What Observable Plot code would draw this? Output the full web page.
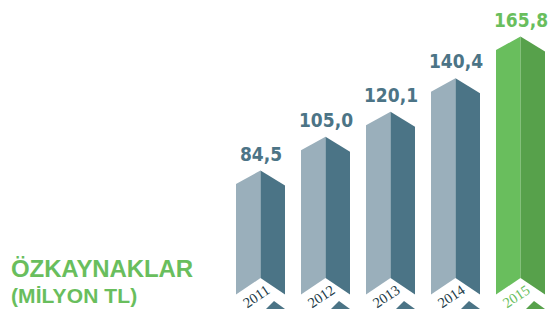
<!DOCTYPE html>
<html>
<head>
<meta charset="utf-8">
<script src="https://cdn.jsdelivr.net/npm/d3@7"></script>
<script src="https://cdn.jsdelivr.net/npm/@observablehq/plot@0.6"></script>
<style>
  html, body { margin: 0; padding: 0; background: #ffffff; }
  #chart { width: 551px; height: 317px; overflow: hidden; }
  #chart svg { display: block; }
</style>
</head>
<body>
<div id="chart"></div>
<script>
// ---- data ----
const years = ["2011", "2012", "2013", "2014", "2015"];
const values = [84.5, 105.0, 120.1, 140.4, 165.8];
const valueLabels = ["84,5", "105,0", "120,1", "140,4", "165,8"];
const highlighted = [false, false, false, false, true];
const titleLines = ["ÖZKAYNAKLAR", "(MİLYON TL)"];

// ---- styles ----
const greyLight = "#9aafbb", greyDark = "#4b7486", greyText = "#4c7486", yearDark = "#223b48";
const greenLight = "#69be5d", greenDark = "#57a14b";

const rows = years.map((year, i) => ({
  year, value: values[i], label: valueLabels[i], hi: highlighted[i]
}));

function prisms(index, scales, vals, dims) {
  const x = scales.x, y = scales.y;
  const bw = x.bandwidth();
  const H = dims.height;
  const g = d3.create("svg:g");
  rows.forEach(d => {
    const L = x(d.year), R = L + bw, c = L + bw / 2;
    const ys = y(d.value);
    const light = d.hi ? greenLight : greyLight;
    const dark = d.hi ? greenDark : greyDark;
    const chevSide = H - 22.5, chevPeak = H - 39;
    g.append("path")
      .attr("d", `M${L},${ys}L${c},${ys - 13.5}L${c},${chevPeak}L${L},${chevSide}Z`)
      .attr("fill", light);
    g.append("path")
      .attr("d", `M${c},${ys - 13.5}L${R},${ys + 1.5}L${R},${chevSide}L${c},${chevPeak}Z`)
      .attr("fill", dark);
    g.append("path")
      .attr("d", `M${L + 30},${H - 8}L${L + 38},${H - 16}L${R},${H - 8}Z`)
      .attr("fill", dark);
  });
  return g.node();
}

const chart = Plot.plot({
  width: 551,
  height: 317,
  marginTop: 0, marginBottom: 0, marginLeft: 0, marginRight: 0,
  style: { background: "#ffffff", overflow: "visible" },
  x: { type: "band", domain: years, range: [228, 553], paddingInner: 0.246, paddingOuter: 0.123, align: 0.5, axis: null },
  y: { domain: [0, 180], range: [323.3, 26.6], axis: null },
  color: { type: "identity" },
  marks: [
    prisms,
    Plot.text(rows, {
      x: "year", y: "value", text: "label",
      fill: d => d.hi ? greenLight : greyText,
      dy: -30,
      fontSize: 19, fontWeight: "bold",
      fontFamily: "'DejaVu Sans Condensed', 'DejaVu Sans', sans-serif",
      textAnchor: "middle"
    }),
    Plot.text(rows, {
      x: "year", text: "year", frameAnchor: "bottom",
      fill: d => d.hi ? greenLight : yearDark,
      dx: -2, dy: -17, rotate: -34,
      fontSize: 14.5, fontFamily: "'Liberation Serif', 'DejaVu Serif', serif",
      textAnchor: "middle"
    })
  ]
});

const svg = d3.select(chart);
svg.append("text")
  .attr("x", 11).attr("y", 277)
  .attr("text-anchor", "start")
  .attr("fill", greenLight)
  .attr("font-family", "'Liberation Sans', Arial, sans-serif")
  .attr("font-weight", "bold")
  .attr("font-size", 24)
  .attr("letter-spacing", -0.1)
  .text(titleLines[0]);
svg.append("text")
  .attr("x", 11).attr("y", 303)
  .attr("text-anchor", "start")
  .attr("fill", greenLight)
  .attr("font-family", "'Liberation Sans', Arial, sans-serif")
  .attr("font-weight", "bold")
  .attr("font-size", 21)
  .attr("letter-spacing", 0.1)
  .text(titleLines[1]);

document.getElementById("chart").appendChild(chart);
</script>
</body>
</html>
